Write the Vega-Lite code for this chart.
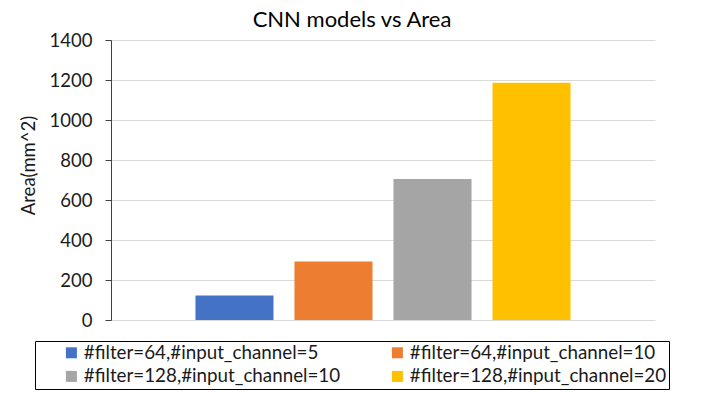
{
  "$schema": "https://vega.github.io/schema/vega-lite/v6.json",
  "width": 544,
  "height": 280,
  "autosize": {"type": "none"},
  "padding": {"left": 111, "top": 40, "right": 51, "bottom": 77},
  "background": "white",
  "title": {
    "text": "CNN models vs Area",
    "anchor": "middle",
    "dx": -31,
    "offset": -1,
    "font": "Lato",
    "fontSize": 22,
    "fontWeight": "normal",
    "color": "#000000"
  },
  "data": {
    "values": [
      {"model": "#filter=64,#input_channel=5", "area": 122},
      {"model": "#filter=64,#input_channel=10", "area": 292},
      {"model": "#filter=128,#input_channel=10", "area": 705},
      {"model": "#filter=128,#input_channel=20", "area": 1186}
    ]
  },
  "mark": {"type": "bar"},
  "encoding": {
    "x": {
      "field": "model",
      "type": "nominal",
      "sort": null,
      "scale": {"paddingInner": 0.212, "paddingOuter": 0.853},
      "axis": null
    },
    "y": {
      "field": "area",
      "type": "quantitative",
      "scale": {"domain": [0, 1400], "nice": false},
      "axis": {
        "title": "Area(mm^2)",
        "values": [0, 200, 400, 600, 800, 1000, 1200, 1400],
        "format": "d",
        "grid": true,
        "gridColor": "#D9D9D9",
        "domainColor": "#404040",
        "tickColor": "#404040",
        "tickSize": 6,
        "labelPadding": 13,
        "labelFont": "Lato",
        "labelFontSize": 18.5,
        "labelColor": "#1a1a1a",
        "titleFont": "Lato",
        "titleFontSize": 18.5,
        "titleFontWeight": "normal",
        "titleColor": "#1a1a1a",
        "titlePadding": 11,
        "titleY": 125
      }
    },
    "color": {
      "field": "model",
      "type": "nominal",
      "sort": null,
      "scale": {
        "domain": ["#filter=64,#input_channel=5", "#filter=64,#input_channel=10", "#filter=128,#input_channel=10", "#filter=128,#input_channel=20"],
        "range": ["#4472C4", "#ED7D31", "#A5A5A5", "#FFC000"]
      },
      "legend": {
        "title": null,
        "orient": "none",
        "direction": "horizontal",
        "legendX": -76,
        "legendY": 301,
        "columns": 2,
        "columnPadding": 22,
        "rowPadding": 4,
        "padding": 2,
        "strokeColor": "#000000",
        "symbolType": "square",
        "symbolSize": 121,
        "symbolStrokeWidth": 0,
        "symbolOffset": 25,
        "labelOffset": 3,
        "labelFont": "Lato",
        "labelFontSize": 18.8,
        "labelColor": "#1a1a1a",
        "labelLimit": 400
      }
    }
  },
  "config": {"view": {"stroke": null}}
}
